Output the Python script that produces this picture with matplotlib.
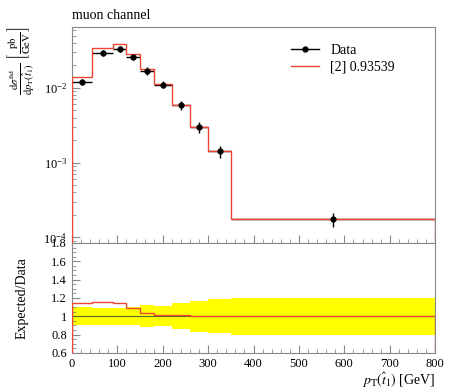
import numpy as np
import matplotlib
matplotlib.use('Agg')
import matplotlib.pyplot as plt
from matplotlib.lines import Line2D
from matplotlib.ticker import MultipleLocator, FuncFormatter, LogLocator, NullFormatter

plt.rcParams['font.family'] = 'Liberation Serif'
plt.rcParams['mathtext.fontset'] = 'stix'

# bin edges in GeV
edges = [0, 45, 90, 120, 150, 180, 220, 260, 300, 350, 800]
# measured cross section [pb/GeV]
data = [0.01213, 0.0293, 0.0334, 0.0261, 0.0170, 0.01107, 0.00593, 0.00298, 0.00142, 0.000174]
# relative data uncertainty
relerr = [0.10, 0.09, 0.09, 0.10, 0.12, 0.11, 0.14, 0.17, 0.185, 0.20]
# expected / data
ratio = [1.14, 1.16, 1.15, 1.085, 1.04, 1.01, 1.01, 1.0, 1.0, 1.0]

edges = np.array(edges, dtype=float)
data = np.array(data)
relerr = np.array(relerr)
ratio = np.array(ratio)
mc = data * ratio
centers = 0.5 * (edges[:-1] + edges[1:])
halfw = 0.5 * np.diff(edges)

red = '#ee4433'
grey = '#888888'

fig = plt.figure(figsize=(4.5, 3.9), dpi=100)
ax = fig.add_axes([0.16, 0.377, 0.807, 0.554])
rax = fig.add_axes([0.16, 0.095, 0.807, 0.282], sharex=ax)

# main panel
ax.errorbar(centers, data, xerr=halfw, yerr=data * relerr, fmt='none', ecolor='black',
            lw=1.0, capsize=0, zorder=2)
ax.stairs(mc, edges, color=red, lw=1.0, zorder=3)
ax.plot(centers, data, 'o', color='black', ms=3.5, zorder=4)
ax.set_yscale('log')
ax.set_xlim(0, 800)
ax.set_ylim(8.4e-5, 0.0656)
ax.yaxis.set_major_locator(LogLocator(base=10, numticks=10))
ax.yaxis.set_minor_locator(LogLocator(base=10, subs=np.arange(2, 10), numticks=10))
ax.yaxis.set_minor_formatter(NullFormatter())
ax.tick_params(labelbottom=False)
# label sits at the top of the axis, like the rivet style
fig.text(21 / 450, 1 - 27 / 390,
         r'$\frac{\mathrm{d}\sigma^{\mathrm{fid}}}{\mathrm{d}p_{\mathrm{T}}(\hat{t}_1)}\ \left[\frac{\mathrm{pb}}{\mathrm{GeV}}\right]$',
         fontsize=11, rotation=90, ha='center', va='top')
ax.set_title('muon channel', loc='left', fontsize=10, pad=6)

handles = [Line2D([], [], color='black', marker='o', ms=3.5, lw=1.0),
           Line2D([], [], color=red, lw=1.0)]
ax.legend(handles, ['Data', '[2] 0.93539'], loc='upper left', bbox_to_anchor=(0.57, 0.98),
          frameon=False, fontsize=10, handlelength=2.0, labelspacing=0.3)

# ratio panel
rax.stairs(1 + relerr, edges, baseline=1 - relerr, fill=True, color='#ffff00', lw=0, zorder=1)
rax.axhline(1.0, color='#556b2f', lw=0.8, zorder=2)
rax.stairs(ratio, edges, color=red, lw=1.0, zorder=3)
rax.set_ylim(0.6, 1.8)
rax.yaxis.set_major_locator(MultipleLocator(0.2))
rax.yaxis.set_minor_locator(MultipleLocator(0.05))
rax.yaxis.set_major_formatter(FuncFormatter(lambda v, p: ('%g' % round(v, 2))))
rax.xaxis.set_major_locator(MultipleLocator(100))
rax.xaxis.set_minor_locator(MultipleLocator(20))
fig.text(22 / 450, 1 - 298 / 390, 'Expected/Data', fontsize=10, rotation=90,
         ha='center', va='center')
rax.set_xlabel(r'$p_{\mathrm{T}}(\hat{t}_1)$ [GeV]', fontsize=10, loc='right', labelpad=1)

for a in (ax, rax):
    for s in a.spines.values():
        s.set_color(grey)
    a.tick_params(which='both', direction='in', color=grey, labelsize=9, top=False, right=False)
    a.tick_params(which='major', length=6)
    a.tick_params(which='minor', length=3)

fig.savefig('out.png', dpi=100)
